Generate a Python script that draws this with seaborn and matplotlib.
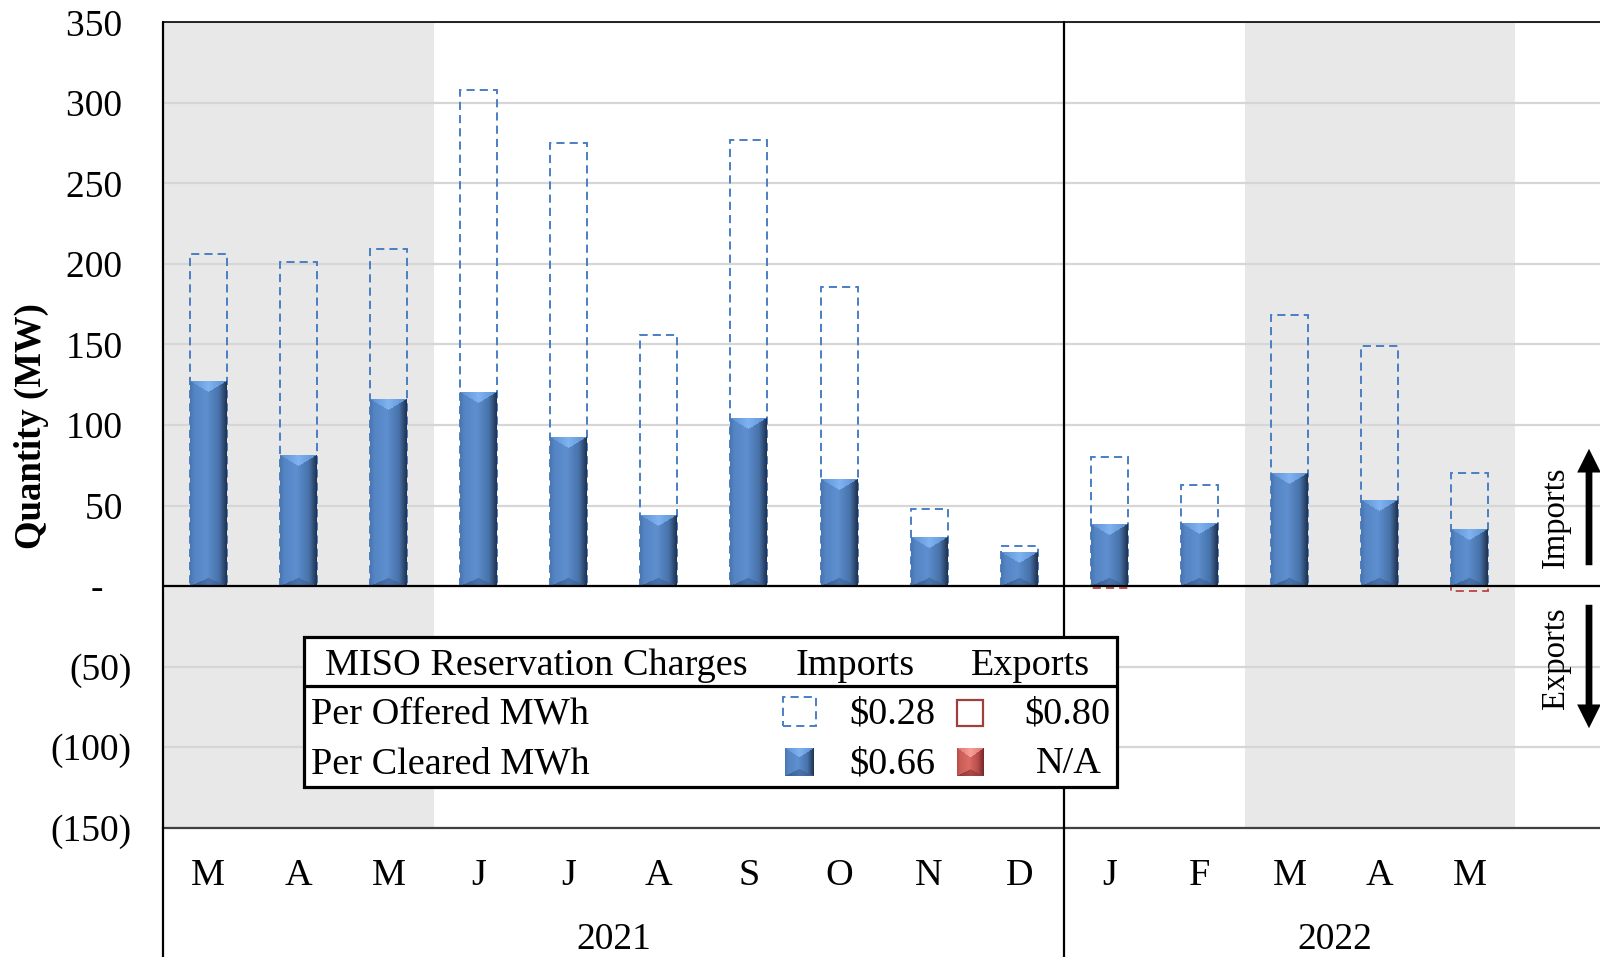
import numpy as np
import pandas as pd
import matplotlib
matplotlib.use("Agg")
import matplotlib.pyplot as plt
import seaborn as sns
from matplotlib.patches import Rectangle, FancyArrowPatch, ArrowStyle
from matplotlib.lines import Line2D

# ---- data -------------------------------------------------------------
periods = ["2021-03", "2021-04", "2021-05", "2021-06", "2021-07", "2021-08",
           "2021-09", "2021-10", "2021-11", "2021-12", "2022-01", "2022-02",
           "2022-03", "2022-04", "2022-05"]
month_labels = ["M", "A", "M", "J", "J", "A", "S", "O", "N", "D",
                "J", "F", "M", "A", "M"]
year_labels = ["2021", "2022"]
offered_imports = [206, 201, 209, 308, 275, 156, 277, 186, 48, 25, 80, 63, 168, 149, 70]
cleared_imports = [127, 81, 116, 120, 92, 44, 104, 66, 30, 21, 38, 39, 70, 53, 35]
offered_exports = [0, 0, 0, 0, 0, 0, 0, 0, 0, 0, -1, 0, 0, 0, -3]
cleared_exports = [0, 0, 0, 0, 0, 0, 0, 0, 0, 0, 0, 0, 0, 0, 0]
y_ticks = [-150, -100, -50, 0, 50, 100, 150, 200, 250, 300, 350]
charge_rows = ["Per Offered MWh", "Per Cleared MWh"]
import_charges = ["$0.28", "$0.66"]
export_charges = ["$0.80", "N/A"]

df = pd.DataFrame({
    "period": periods,
    "offered_imports": offered_imports,
    "cleared_imports": cleared_imports,
    "offered_exports": offered_exports,
    "cleared_exports": cleared_exports,
})

BLUE = "#4F81BD"
DASH_BLUE = "#4A7EC4"
RED = "#C0504D"
SHADE = "#E8E8E8"
GRID = "#D6D6D6"
W_PX, H_PX = 1600, 957

sns.set_theme(style="white")
plt.rcParams["font.family"] = ["Liberation Serif", "DejaVu Serif"]
plt.rcParams.update({"text.color": "black", "xtick.color": "black",
                     "ytick.color": "black", "axes.labelcolor": "black"})


def fx(px):
    return px / W_PX


def fy(py):
    return 1 - py / H_PX


BLUE_PAL = {
    "face": [(0.29, 0.46, 0.68), (0.33, 0.52, 0.77), (0.37, 0.56, 0.81),
             (0.28, 0.45, 0.67), (0.12, 0.19, 0.30)],
    "top_edge": (0.36, 0.56, 0.82), "top_mid": (0.50, 0.70, 0.94),
    "bottom": (0.25, 0.40, 0.60),
}
RED_PAL = {
    "face": [(0.70, 0.30, 0.29), (0.80, 0.36, 0.34), (0.86, 0.42, 0.40),
             (0.72, 0.30, 0.29), (0.45, 0.15, 0.15)],
    "top_edge": (0.86, 0.45, 0.43), "top_mid": (0.97, 0.62, 0.60),
    "bottom": (0.60, 0.25, 0.24),
}


def bevel(w, h, pal):
    """Bevelled bar face rendered as an RGB array of roughly w x h pixels."""
    W = max(int(round(w)), 2)
    H = max(int(round(h)), 2)
    X, Y = np.meshgrid(np.arange(W) + 0.5, np.arange(H) + 0.5)
    t = X / W
    stops = [0.0, 0.12, 0.45, 0.78, 1.0]
    img = np.zeros((H, W, 3))
    for c in range(3):
        img[..., c] = np.interp(t, stops, [col[c] for col in pal["face"]])
    side = np.minimum(X, W - X)
    half = W / 2
    dt, db = Y, H - Y
    depth_t = min(11.0, H * 0.33)
    depth_b = min(8.0, H * 0.25)
    top = (dt < depth_t) & (dt * half / depth_t <= side)
    bot = (db < depth_b) & (db * half / depth_b <= side)
    k = 1 - np.abs(X - half) / half
    for c in range(3):
        tc = pal["top_edge"][c] + (pal["top_mid"][c] - pal["top_edge"][c]) * k
        img[..., c] = np.where(top, tc, img[..., c])
        img[..., c] = np.where(bot, pal["bottom"][c] * (0.88 + 0.25 * k), img[..., c])
    return np.clip(img, 0, 1)


# ---- figure / axes ------------------------------------------------------
fig = plt.figure(figsize=(W_PX / 100, H_PX / 100), dpi=100)
ax_left, ax_top, ax_bottom = 163.3, 22.4, 827.6
ax_right = 163.3 + 16 * 90.1
ax = fig.add_axes([fx(ax_left), 1 - ax_bottom / H_PX,
                   (ax_right - ax_left) / W_PX, (ax_bottom - ax_top) / H_PX])

bar_w = 0.41
sns.barplot(data=df, x="period", y="offered_imports", order=periods, width=bar_w,
            errorbar=None, ax=ax, color=BLUE)
sns.barplot(data=df, x="period", y="offered_exports", order=periods, width=bar_w,
            errorbar=None, ax=ax, color=RED)
sns.barplot(data=df, x="period", y="cleared_imports", order=periods, width=bar_w,
            errorbar=None, ax=ax, color=BLUE)
sns.barplot(data=df, x="period", y="cleared_exports", order=periods, width=bar_w,
            errorbar=None, ax=ax, color=RED)

off_imp, off_exp, clr_imp, clr_exp = ax.containers[:4]
for cont, col in ((off_imp, DASH_BLUE), (off_exp, RED)):
    for p in cont:
        p.set_facecolor("none")
        p.set_edgecolor(col)
        p.set_linewidth(1.4)
        p.set_linestyle((0, (4.2, 2.6)))
        p.set_zorder(2)
        if p.get_height() == 0:
            p.set_visible(False)

ax.set_xlim(-0.5, 15.5)
ax.set_ylim(-150, 350)
ax.set_autoscale_on(False)

# bevelled fill for the cleared bars
for cont, pal in ((clr_imp, BLUE_PAL), (clr_exp, RED_PAL)):
    for p in cont:
        p.set_facecolor("none")
        p.set_edgecolor("none")
        h = p.get_height()
        if h == 0:
            continue
        x0, w, y0 = p.get_x(), p.get_width(), p.get_y()
        ya, yb = sorted([y0, y0 + h])
        (px0, py0), (px1, py1) = ax.transData.transform([(x0, ya), (x0 + w, yb)])
        img = bevel(px1 - px0, py1 - py0, pal)
        ax.imshow(img, extent=[x0, x0 + w, ya, yb], origin="upper",
                  aspect="auto", interpolation="bilinear", zorder=2.5)

ax.set_xlim(-0.5, 15.5)
ax.set_ylim(-150, 350)

# shaded quarters and grid
ax.axvspan(-0.5, 2.5, color=SHADE, zorder=0, lw=0)
ax.axvspan(11.5, 14.5, color=SHADE, zorder=0, lw=0)
ax.set_axisbelow(True)
ax.yaxis.grid(True, color=GRID, lw=1.6)
ax.xaxis.grid(False)
ax.axhline(0, color="black", lw=1.6, zorder=3)

# ticks
ax.set_yticks(y_ticks)


def acct(v):
    if v > 0:
        return f"{v} "
    if v == 0:
        return "-   "
    return f"({-v})"


ax.set_yticklabels([acct(v) for v in y_ticks], fontsize=27)
ax.set_xticks(range(len(periods)))
ax.set_xticklabels(month_labels, fontsize=27.5)
ax.tick_params(axis="y", length=0, pad=23)
ax.tick_params(axis="x", length=0, pad=22)
ax.set_xlabel("")
ax.set_ylabel("")

for side in ("left", "right"):
    ax.spines[side].set_visible(False)
ax.spines["top"].set_color("black")
ax.spines["top"].set_linewidth(1.2)
ax.spines["bottom"].set_color("#404040")
ax.spines["bottom"].set_linewidth(1.6)

# vertical separators running down through the category band
for xv in (-0.5, 9.5):
    ax.add_line(Line2D([xv, xv], [-0.2, 1.0], transform=ax.get_xaxis_transform(),
                       color="black", lw=1.6, clip_on=False, zorder=4))

year_y = (H_PX - 940 - (H_PX - ax_bottom)) / (ax_bottom - ax_top)
ax.text(4.5, year_y, year_labels[0], transform=ax.get_xaxis_transform(),
        ha="center", va="center", fontsize=27)
ax.text(12.5, year_y, year_labels[1], transform=ax.get_xaxis_transform(),
        ha="center", va="center", fontsize=27)

fig.text(fx(31), fy(426), "Quantity (MW)", rotation=90, ha="center", va="center",
         fontsize=26.5, fontweight="bold")

# ---- charges table ------------------------------------------------------
tb_l, tb_r, tb_t, tb_b, tb_mid = 304, 1117, 637, 787, 686
fig.patches.append(Rectangle((fx(tb_l), fy(tb_b)), fx(tb_r) - fx(tb_l),
                             fy(tb_t) - fy(tb_b), transform=fig.transFigure,
                             facecolor="white", edgecolor="black", lw=2.3, zorder=5))
fig.lines.append(Line2D([fx(tb_l), fx(tb_r)], [fy(tb_mid), fy(tb_mid)],
                        transform=fig.transFigure, color="black", lw=2.3, zorder=6))
tfs = 27.5
fig.text(fx(536), fy(666), "MISO Reservation Charges", ha="center", va="center",
         fontsize=tfs, zorder=7)
fig.text(fx(855), fy(666), "Imports", ha="center", va="center", fontsize=tfs, zorder=7)
fig.text(fx(1031), fy(666), "Exports", ha="center", va="center", fontsize=tfs, zorder=7)
row_y = [714, 764]
for i, ry in enumerate(row_y):
    fig.text(fx(311), fy(ry), charge_rows[i], ha="left", va="center",
             fontsize=tfs, zorder=7)
    fig.text(fx(935), fy(ry), import_charges[i], ha="right", va="center",
             fontsize=tfs, zorder=7)
    fig.text(fx(1110) if i == 0 else fx(1102), fy(ry), export_charges[i],
             ha="right", va="center", fontsize=tfs, zorder=7)

# legend swatches
fig.patches.append(Rectangle((fx(783), fy(726)), fx(816) - fx(783), fy(697) - fy(726),
                             transform=fig.transFigure, facecolor="none",
                             edgecolor=DASH_BLUE, lw=1.4, ls=(0, (4.2, 2.6)), zorder=7))
fig.patches.append(Rectangle((fx(957), fy(726)), fx(983) - fx(957), fy(700) - fy(726),
                             transform=fig.transFigure, facecolor="white",
                             edgecolor="#A0403D", lw=1.6, zorder=7))
for (l, r), pal in (((785, 813), BLUE_PAL), ((957, 984), RED_PAL)):
    sw = fig.add_axes([fx(l), fy(776), fx(r) - fx(l), fy(748) - fy(776)], zorder=8)
    sw.imshow(bevel(r - l, 28, pal), aspect="auto", interpolation="bilinear")
    sw.axis("off")

# ---- direction arrows ---------------------------------------------------
style = ArrowStyle("Simple", head_length=0.95, head_width=0.95, tail_width=0.27)
fig.patches.append(FancyArrowPatch((fx(1589), fy(568)), (fx(1589), fy(446)),
                                   transform=fig.transFigure, arrowstyle=style,
                                   mutation_scale=18, color="black", lw=0, zorder=6))
fig.patches.append(FancyArrowPatch((fx(1589), fy(602)), (fx(1589), fy(731)),
                                   transform=fig.transFigure, arrowstyle=style,
                                   mutation_scale=18, color="black", lw=0, zorder=6))
fig.text(fx(1556), fy(517), "Imports", rotation=90, ha="center", va="center",
         fontsize=23.5, zorder=7)
fig.text(fx(1556), fy(658), "Exports", rotation=90, ha="center", va="center",
         fontsize=23.5, zorder=7)

fig.savefig("out.png", dpi=100)
